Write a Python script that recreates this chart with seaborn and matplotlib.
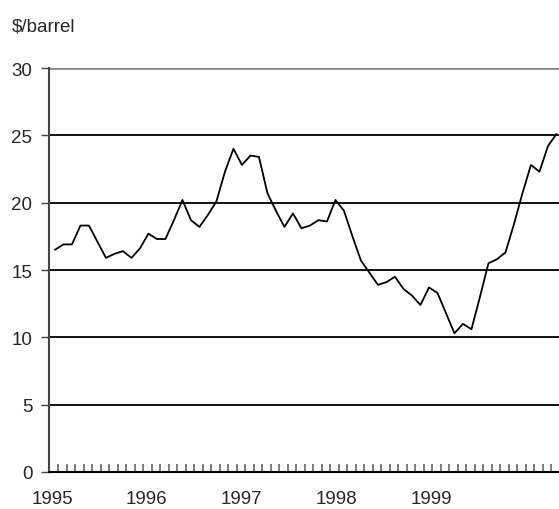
import numpy as np
import pandas as pd
import matplotlib
matplotlib.use("Agg")
import matplotlib.pyplot as plt
import seaborn as sns

# monthly oil price, Jan 1995 .. Dec 1999 ($/barrel)
prices = [16.5, 16.9, 16.9, 18.3, 18.3, 17.1, 15.9, 16.2, 16.4, 15.9, 16.6, 17.7,
          17.3, 17.3, 18.7, 20.2, 18.7, 18.2, 19.1, 20.1, 22.3, 24.0, 22.8, 23.5,
          23.4, 20.7, 19.4, 18.2, 19.2, 18.1, 18.3, 18.7, 18.6, 20.2, 19.4, 17.5,
          15.7, 14.8, 13.9, 14.1, 14.5, 13.6, 13.1, 12.4, 13.7, 13.3, 11.8, 10.3,
          11.0, 10.6, 13.0, 15.5, 15.8, 16.3, 18.4, 20.7, 22.8, 22.3, 24.2, 25.1]
year_labels = ["1995", "1996", "1997", "1998", "1999"]
y_ticks = [0, 5, 10, 15, 20, 25, 30]

df = pd.DataFrame({"month": np.arange(len(prices)), "price": prices})

sns.set_style("white")
plt.rcParams["font.family"] = ["Liberation Sans", "DejaVu Sans"]

fig = plt.figure(figsize=(5.59, 5.10), dpi=100)
ax = fig.add_axes([49 / 559, 37 / 510, 510 / 559, 404 / 510])

# horizontal gridlines
for v in y_ticks[1:-1]:
    ax.axhline(v, color="black", lw=1.3, zorder=1)
ax.axhline(30, color="#888888", lw=2, zorder=1)

sns.lineplot(data=df, x="month", y="price", color="black", lw=1.3, ax=ax, zorder=3)

ax.set_xlim(-0.7, 59.3)
ax.set_ylim(0, 30)
ax.set_yticks(y_ticks)
ax.set_yticklabels([str(t) for t in y_ticks], fontsize=13.5)
ax.tick_params(axis="y", left=True, direction="out", length=6, width=1, color="#444444", pad=6)

# year labels (as positioned in the original) + monthly minor ticks
ax.set_xticks(np.arange(len(year_labels)) * 11.15 - 0.35)
ax.set_xticklabels(year_labels, fontsize=13.5)
ax.tick_params(axis="x", which="major", bottom=True, length=0, pad=13)
ax.set_xticks(np.arange(59) + 0.4, minor=True)
ax.tick_params(axis="x", which="minor", bottom=True, direction="in",
               length=6, width=1.2, color="#666666")

ax.set_xlabel("")
ax.set_ylabel("")
for s in ["top", "right"]:
    ax.spines[s].set_visible(False)
ax.spines["left"].set_color("#444444")
ax.spines["left"].set_linewidth(1.5)
ax.spines["bottom"].set_color("black")
ax.spines["bottom"].set_linewidth(1.5)

fig.text(12 / 559, 1 - 27 / 510, r"\$/barrel", fontsize=13.5, va="center", ha="left")

fig.savefig("out.png", dpi=100)
